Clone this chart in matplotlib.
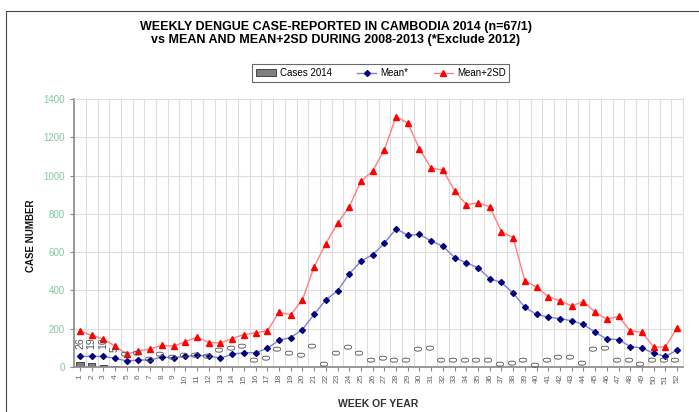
import matplotlib
matplotlib.use("agg")
import matplotlib.pyplot as plt
from matplotlib.patches import Rectangle

plt.rcParams["font.family"] = ["Liberation Sans Narrow", "Liberation Sans", "DejaVu Sans"]

weeks = list(range(1, 53))

cases_2014 = [26, 19, 10, 5] + [0] * 48

mean = [56, 56, 56, 46, 32, 37, 37, 53, 49, 56, 61, 58, 47, 67, 75, 75, 98, 140,
        154, 196, 275, 351, 398, 486, 553, 586, 647, 722, 688, 693, 658, 631, 572,
        544, 519, 461, 442, 386, 312, 275, 261, 253, 242, 223, 182, 146, 144, 107,
        100, 72, 56, 89]

mean_2sd = [189, 165, 147, 109, 68, 84, 95, 114, 109, 133, 156, 128, 126, 149, 170,
            179, 189, 286, 274, 351, 523, 645, 751, 837, 970, 1024, 1134, 1308, 1273,
            1139, 1038, 1029, 921, 848, 857, 837, 707, 675, 451, 417, 368, 346, 319,
            342, 288, 249, 265, 189, 182, 105, 105, 205]

# heights where the data labels of the 2014 bars sit in the original
label_y = [127, 127, 127, 94, 73, 80, 47, 73, 59, 70, 66, 62, 95, 102, 114, 40, 51,
           100, 77, 70, 114, 23, 79, 110, 77, 39, 53, 44, 39, 100, 105, 39, 39, 39,
           39, 39, 23, 28, 39, 18, 39, 58, 58, 28, 98, 102, 39, 39, 21, 39, 39, 39]

fig = plt.figure(figsize=(6.99, 4.12), dpi=100)
fig.patches.append(Rectangle((0.009, -0.1), 1.2, 1.073, transform=fig.transFigure,
                             fill=False, edgecolor="#444444", lw=0.8))

ax = fig.add_axes([0.106, 0.109, 0.871, 0.651])

bars = ax.bar(weeks, cases_2014, width=0.65, color="#7f7f7f", edgecolor="#333333",
              lw=0.6, label="Cases 2014", zorder=2)
l_mean, = ax.plot(weeks, mean, color="#8080d0", lw=1.0, marker="D", ms=3, mfc="#000080",
                  mec="#000080", label="Mean*", zorder=3)
l_sd, = ax.plot(weeks, mean_2sd, color="#ff8080", lw=1.0, marker="^", ms=4.5,
                mfc="#ff0000", mec="#ff0000", label="Mean+2SD", zorder=3)

for w, c, y in zip(weeks, cases_2014, label_y):
    ax.text(w, y, str(c), rotation=90, ha="center", va="center", fontsize=7.5,
            color="#555555", zorder=4)

ax.set_xlim(0.5, 52.5)
ax.set_ylim(0, 1400)
ax.set_yticks(range(0, 1401, 200))
ax.set_xticks(weeks)
ax.set_xticklabels([str(w) for w in weeks], rotation=90, fontsize=6, color="#666666")
ax.set_xticks([w + 0.5 for w in weeks[:-1]], minor=True)
ax.tick_params(axis="x", which="minor", length=0)
ax.tick_params(axis="x", which="major", length=3, color="#888888", pad=2)
ax.tick_params(axis="y", labelsize=7, labelcolor="#80c8a0", length=3, color="#888888")
ax.grid(True, which="minor", axis="x", color="#dddddd", lw=0.8)
ax.grid(True, which="major", axis="y", color="#dddddd", lw=0.8)
ax.set_axisbelow(True)
for s in ["top", "right"]:
    ax.spines[s].set_color("#dddddd")
for s in ["left", "bottom"]:
    ax.spines[s].set_color("#888888")
    ax.spines[s].set_linewidth(1.2)

ax.set_xlabel("WEEK OF YEAR", fontsize=7.5, fontweight="bold", color="#333333", labelpad=11)
ax.set_ylabel("CASE NUMBER", fontsize=7, fontweight="bold", color="#111111")
ax.yaxis.set_label_coords(-0.062, 0.49)

fig.text(0.48, 0.935, "WEEKLY DENGUE CASE-REPORTED IN CAMBODIA 2014 (n=67/1)",
         ha="center", va="center", fontsize=9, fontweight="bold")
fig.text(0.48, 0.902, "vs MEAN AND MEAN+2SD DURING 2008-2013 (*Exclude 2012)",
         ha="center", va="center", fontsize=9, fontweight="bold")

leg = fig.legend([bars, l_mean, l_sd], ["Cases 2014", "Mean*", "Mean+2SD"],
                 loc="center", bbox_to_anchor=(0.545, 0.823), ncol=3, fontsize=7,
                 frameon=True, fancybox=False, edgecolor="#444444",
                 handlelength=2.0, handletextpad=0.4, columnspacing=2.6, borderpad=0.4)
leg.get_frame().set_linewidth(0.8)

fig.savefig("out.png", dpi=100)
